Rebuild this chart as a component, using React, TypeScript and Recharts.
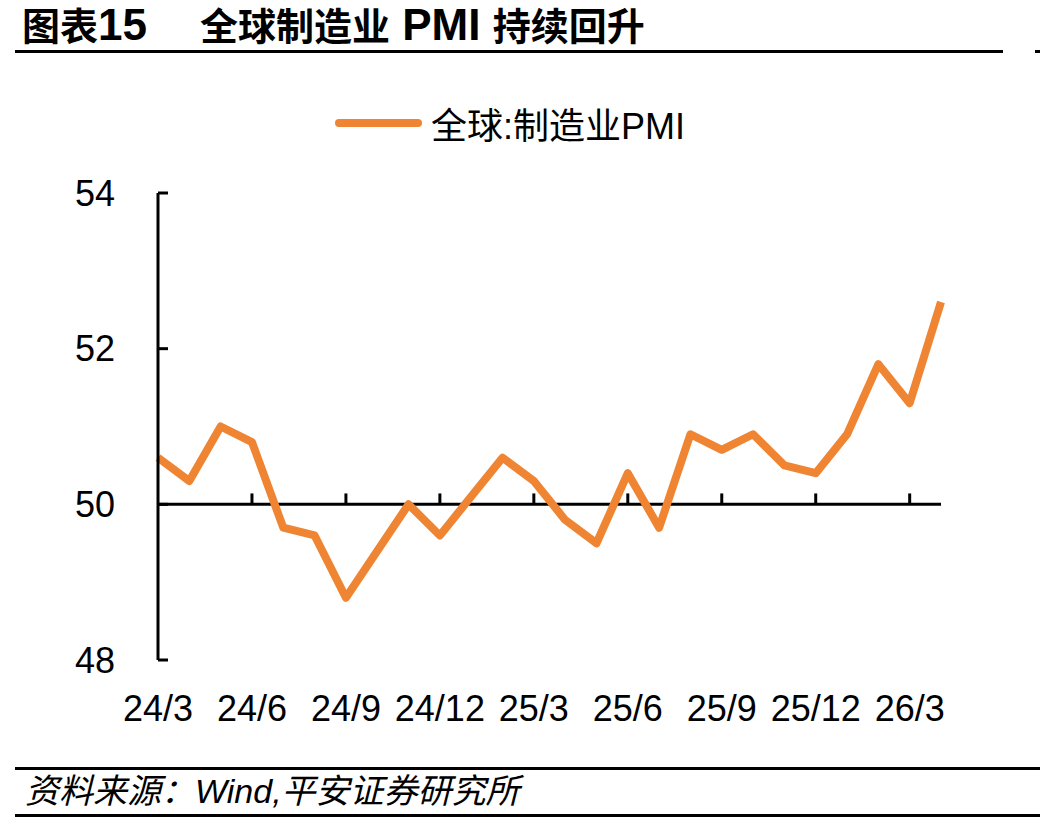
import React from 'react';
import {
  LineChart,
  Line,
  XAxis,
  YAxis,
  Legend,
  ReferenceLine,
} from 'recharts';

// Monthly global manufacturing PMI, 2024/3 – 2026/4
const months = [
  '24/3', '24/4', '24/5', '24/6', '24/7', '24/8', '24/9', '24/10', '24/11', '24/12',
  '25/1', '25/2', '25/3', '25/4', '25/5', '25/6', '25/7', '25/8', '25/9', '25/10',
  '25/11', '25/12', '26/1', '26/2', '26/3', '26/4',
];
const pmi = [
  50.6, 50.3, 51.0, 50.8, 49.7, 49.6, 48.8, 49.4, 50.0, 49.6,
  50.1, 50.6, 50.3, 49.8, 49.5, 50.4, 49.7, 50.9, 50.7, 50.9,
  50.5, 50.4, 50.9, 51.8, 51.3, 52.6,
];
const yTicks = [48, 50, 52, 54];
const tickMonths = ['24/6', '24/9', '24/12', '25/3', '25/6', '25/9', '25/12', '26/3'];

const seriesName = '全球:制造业PMI';
const sourceText = '资料来源：Wind,平安证券研究所';

const ORANGE = '#EF8532';
const FONT = '"Liberation Sans", Arial, "Noto Sans CJK SC", sans-serif';

const data = months.map((m, i) => ({ month: m, value: pmi[i] }));

const LegendContent = (props: any) => {
  const item = (props.payload && props.payload[0]) || { value: seriesName, color: ORANGE };
  return (
    <div
      style={{
        height: 140,
        display: 'flex',
        alignItems: 'center',
        paddingLeft: 335,
        fontFamily: FONT,
      }}
    >
      <div
        style={{
          width: 87,
          height: 8,
          borderRadius: 4,
          background: item.color || ORANGE,
        }}
      />
      <span style={{ marginLeft: 9, fontSize: 36, color: '#000' }}>{item.value}</span>
    </div>
  );
};

const latin = { fontSize: 44 };

export default function App() {
  return (
    <div
      style={{
        position: 'absolute',
        left: 0,
        top: 0,
        width: 1040,
        height: 824,
        background: '#fff',
        fontFamily: FONT,
        overflow: 'hidden',
      }}
    >
      {/* Title */}
      <div
        style={{
          position: 'absolute',
          left: 22,
          top: 5,
          fontSize: 38,
          lineHeight: '40px',
          fontWeight: 'bold',
          whiteSpace: 'nowrap',
        }}
      >
        图表<span style={latin}>15</span>
      </div>
      <div
        style={{
          position: 'absolute',
          left: 200,
          top: 5,
          fontSize: 38,
          lineHeight: '40px',
          fontWeight: 'bold',
          whiteSpace: 'nowrap',
        }}
      >
        全球制造业<span style={latin}> PMI </span>持续回升
      </div>
      <div style={{ position: 'absolute', left: 15, top: 50, width: 988, height: 3, background: '#000' }} />
      <div style={{ position: 'absolute', left: 1035, top: 50, width: 5, height: 3, background: '#000' }} />

      <LineChart
        width={1040}
        height={824}
        data={data}
        margin={{ top: 53, right: 99, left: 98, bottom: 134 }}
        style={{ position: 'absolute', left: 0, top: 0 }}
      >
        <Legend
          verticalAlign="top"
          align="left"
          wrapperStyle={{ left: 0, width: 1040 }}
          content={<LegendContent />}
        />
        <XAxis
          dataKey="month"
          interval={2}
          axisLine={false}
          tickLine={false}
          tickSize={0}
          tickMargin={35}
          height={30}
          tick={{ fill: '#000', fontSize: 36, fontFamily: FONT }}
        />
        <YAxis
          domain={[48, 54]}
          ticks={yTicks}
          allowDataOverflow
          width={60}
          axisLine={{ stroke: '#000', strokeWidth: 3 }}
          tickLine={{ stroke: '#000', strokeWidth: 3 }}
          tickSize={-10}
          tickMargin={53}
          tick={{ fill: '#000', fontSize: 36, fontFamily: FONT }}
        />
        <ReferenceLine y={50} stroke="#000" strokeWidth={3} />
        {tickMonths.map((m) => (
          <ReferenceLine
            key={m}
            segment={[
              { x: m, y: 50 },
              { x: m, y: 50.14 },
            ]}
            stroke="#000"
            strokeWidth={3}
          />
        ))}
        <Line
          type="linear"
          dataKey="value"
          name={seriesName}
          stroke={ORANGE}
          strokeWidth={8}
          strokeLinejoin="round"
          dot={false}
          activeDot={false}
          isAnimationActive={false}
        />
      </LineChart>

      {/* Source */}
      <div style={{ position: 'absolute', left: 15, top: 767, width: 1025, height: 3, background: '#000' }} />
      <div
        style={{
          position: 'absolute',
          left: 25,
          top: 772,
          fontSize: 34,
          lineHeight: '38px',
          fontStyle: 'italic',
          whiteSpace: 'nowrap',
        }}
      >
        {sourceText}
      </div>
      <div style={{ position: 'absolute', left: 15, top: 814, width: 1025, height: 3, background: '#000' }} />
    </div>
  );
}
